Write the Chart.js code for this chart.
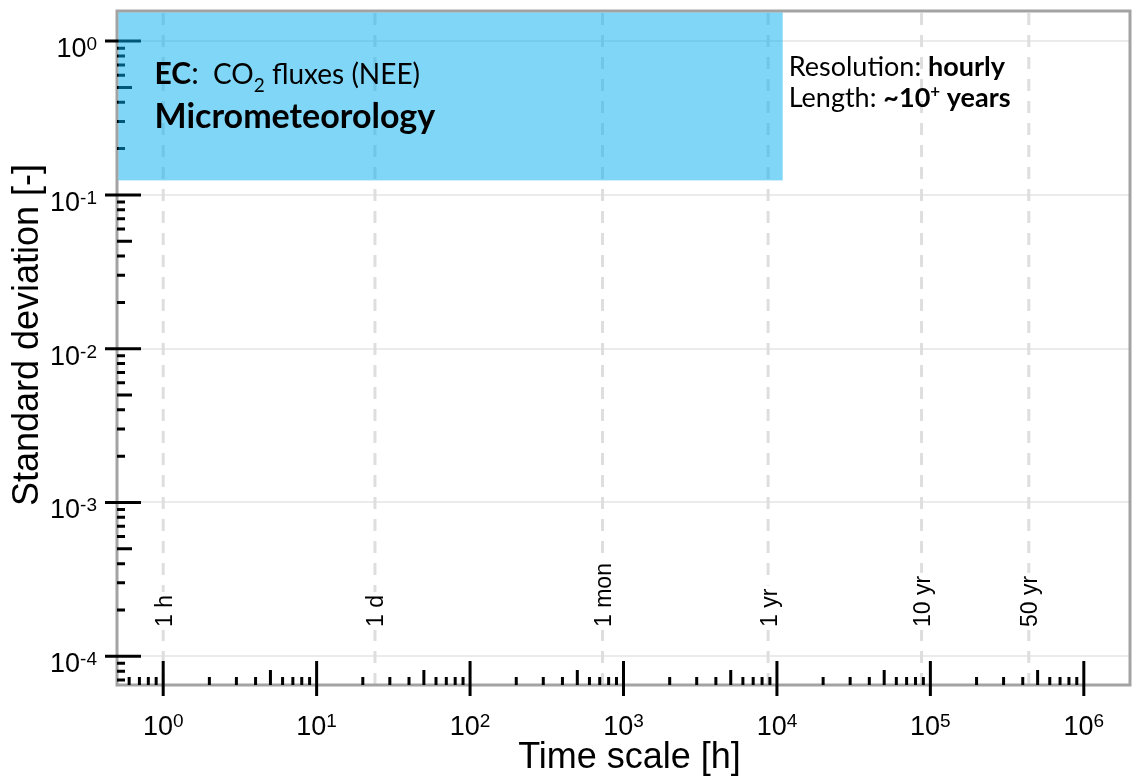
<!DOCTYPE html>
<html>
<head>
<meta charset="utf-8">
<script src="https://cdn.jsdelivr.net/npm/chart.js@4.4.1/dist/chart.umd.min.js"></script>
<style>
  html, body { margin: 0; padding: 0; background: #fff; }
  #wrap { width: 1134px; height: 779px; }
</style>
</head>
<body>
<div id="wrap"><canvas id="myChart" width="1134" height="779"></canvas></div>
<script>
// axis ranges and ticks (time scale in hours, standard deviation)
const xRange = [0.5, 2e6];
const yRange = [6.5e-5, 1.57];
const xDecades = [1, 10, 100, 1000, 10000, 100000, 1000000];
const xExponents = ['0', '1', '2', '3', '4', '5', '6'];
const yDecades = [1, 0.1, 0.01, 0.001, 0.0001];
const yExponents = ['0', '-1', '-2', '-3', '-4'];
const minorSteps = [2, 3, 4, 5, 6, 7, 8, 9];

// reference time scales (hours)
const refTimes = [1, 24, 730, 8760, 87600, 438000];
const refLabels = ['1 h', '1 d', '1 mon', '1 yr', '10 yr', '50 yr'];

// highlighted data range box (x in hours, y in std dev)
const boxX = [0.5, 1.09e4];
const boxY = [0.1243, 1.57];

const FONT = '"Liberation Sans", Arial, sans-serif';
const TEXT_FONT = 'Lato, "Open Sans", sans-serif';

function minorValues(decades, range) {
    let out = [];
    let lo = Math.floor(Math.log10(range[0])), hi = Math.ceil(Math.log10(range[1]));
    for (let e = lo; e < hi; e++) {
        minorSteps.forEach(m => {
            let v = m * Math.pow(10, e);
            if (v > range[0] && v < range[1]) out.push({v: v, m: m});
        });
    }
    return out;
}

function drawPow(ctx, exp, x, y, align, big, small, lift) {
    ctx.font = big + 'px ' + FONT;
    let w1 = ctx.measureText('10').width;
    ctx.font = small + 'px ' + FONT;
    let w2 = ctx.measureText(exp).width;
    let start = align === 'center' ? x - (w1 + w2) / 2 : x - (w1 + w2);
    ctx.textAlign = 'left';
    ctx.textBaseline = 'alphabetic';
    ctx.font = big + 'px ' + FONT;
    ctx.fillText('10', start, y);
    ctx.font = small + 'px ' + FONT;
    ctx.fillText(exp, start + w1, y - lift);
}

function runs(ctx, x, y, parts) {
    parts.forEach(p => {
        ctx.font = p.f;
        ctx.fillText(p.t, x, y + (p.dy || 0));
        x += ctx.measureText(p.t).width;
    });
}

const framePlugin = {
    id: 'frame',
    afterDatasetsDraw(chart) {
        const ctx = chart.ctx;
        const a = chart.chartArea;
        const xs = chart.scales.x, ys = chart.scales.y;
        ctx.save();

        // frame
        ctx.strokeStyle = '#a3a3a3';
        ctx.lineWidth = 3;
        ctx.strokeRect(a.left, a.top, a.right - a.left, a.bottom - a.top);

        // tick marks
        ctx.strokeStyle = '#000';
        ctx.lineWidth = 3;
        ctx.beginPath();
        xDecades.forEach(v => {
            let px = xs.getPixelForValue(v);
            ctx.moveTo(px, a.bottom + 11);
            ctx.lineTo(px, a.bottom - 24);
        });
        minorValues(xDecades, xRange).forEach(o => {
            let px = xs.getPixelForValue(o.v);
            ctx.moveTo(px, a.bottom);
            ctx.lineTo(px, a.bottom - (o.m === 5 ? 15 : 8));
        });
        yDecades.forEach(v => {
            let py = ys.getPixelForValue(v);
            ctx.moveTo(a.left - 12, py);
            ctx.lineTo(a.left + 24, py);
        });
        minorValues(yDecades, yRange).forEach(o => {
            let py = ys.getPixelForValue(o.v);
            ctx.moveTo(a.left, py);
            ctx.lineTo(a.left + (o.m === 5 ? 15 : 8), py);
        });
        ctx.stroke();

        // highlight box
        let bx0 = Math.max(xs.getPixelForValue(boxX[0]), a.left + 1.5);
        let bx1 = xs.getPixelForValue(boxX[1]);
        let by0 = Math.max(ys.getPixelForValue(boxY[1]), a.top + 1.5);
        let by1 = ys.getPixelForValue(boxY[0]);
        ctx.fillStyle = 'rgba(0, 173, 237, 0.5)';
        ctx.fillRect(bx0, by0, bx1 - bx0, by1 - by0);

        ctx.fillStyle = '#000';
        ctx.textAlign = 'left';
        ctx.textBaseline = 'alphabetic';
        runs(ctx, bx0 + 36, 84, [
            {t: 'EC', f: 'bold 30px ' + TEXT_FONT},
            {t: ':', f: '30px ' + TEXT_FONT},
            {t: '  CO', f: '28px ' + TEXT_FONT},
            {t: '2', f: '19px ' + TEXT_FONT, dy: 8},
            {t: ' fluxes (NEE)', f: '28px ' + TEXT_FONT}
        ]);
        runs(ctx, bx0 + 36, 128, [
            {t: 'Micrometeorology', f: 'bold 34px ' + TEXT_FONT}
        ]);
        runs(ctx, bx1 + 6, 76, [
            {t: 'Resolution: ', f: '27px ' + TEXT_FONT},
            {t: 'hourly', f: 'bold 27px ' + TEXT_FONT}
        ]);
        runs(ctx, bx1 + 6, 107, [
            {t: 'Length: ', f: '27px ' + TEXT_FONT},
            {t: '~10', f: 'bold 27px ' + TEXT_FONT},
            {t: '+', f: 'bold 17px ' + TEXT_FONT, dy: -10},
            {t: ' years', f: 'bold 27px ' + TEXT_FONT}
        ]);

        // reference labels, rotated
        ctx.font = '23px ' + FONT;
        refTimes.forEach((t, i) => {
            let px = xs.getPixelForValue(t);
            let w = ctx.measureText(refLabels[i]).width;
            ctx.save();
            ctx.translate(px, 627);
            ctx.rotate(-Math.PI / 2);
            ctx.fillStyle = '#fff';
            ctx.fillRect(-3, -10, w + 6, 22);
            ctx.fillStyle = '#000';
            ctx.fillText(refLabels[i], 0, 8.5);
            ctx.restore();
        });

        // tick labels
        ctx.fillStyle = '#000';
        xDecades.forEach((v, i) => {
            drawPow(ctx, xExponents[i], xs.getPixelForValue(v), 735, 'center', 27, 19, 8);
        });
        yDecades.forEach((v, i) => {
            drawPow(ctx, yExponents[i], 97, ys.getPixelForValue(v) + 16, 'right', 27, 19, 7);
        });

        // axis titles
        ctx.font = '36px ' + FONT;
        ctx.textAlign = 'center';
        ctx.fillText('Time scale [h]', (a.left + a.right) / 2 + 6, 768);
        ctx.save();
        ctx.translate(38, 335);
        ctx.rotate(-Math.PI / 2);
        ctx.fillText('Standard deviation [-]', 0, 0);
        ctx.restore();

        ctx.restore();
    }
};

new Chart(document.getElementById('myChart'), {
    type: 'scatter',
    data: {
        datasets: refTimes.map((t, i) => ({
            label: refLabels[i],
            data: [{x: t, y: yRange[0]}, {x: t, y: yRange[1]}],
            showLine: true,
            borderColor: '#dedede',
            borderWidth: 3,
            borderDash: [12, 10],
            pointRadius: 0
        }))
    },
    options: {
        responsive: false,
        animation: false,
        devicePixelRatio: 1,
        layout: { padding: { top: 11, right: 4, left: 0, bottom: 0 } },
        plugins: { legend: { display: false }, tooltip: { enabled: false } },
        scales: {
            x: {
                type: 'logarithmic',
                min: xRange[0],
                max: xRange[1],
                afterBuildTicks: s => { s.ticks = xDecades.map(v => ({ value: v })); },
                afterFit: s => { s.height = 94; },
                ticks: { display: false },
                grid: { display: false },
                border: { display: false }
            },
            y: {
                type: 'logarithmic',
                min: yRange[0],
                max: yRange[1],
                afterBuildTicks: s => { s.ticks = yDecades.map(v => ({ value: v })); },
                afterFit: s => { s.width = 117; },
                ticks: { display: false },
                grid: { color: '#ebebeb', lineWidth: 2, drawTicks: false },
                border: { display: false }
            }
        }
    },
    plugins: [framePlugin]
});
</script>
</body>
</html>
